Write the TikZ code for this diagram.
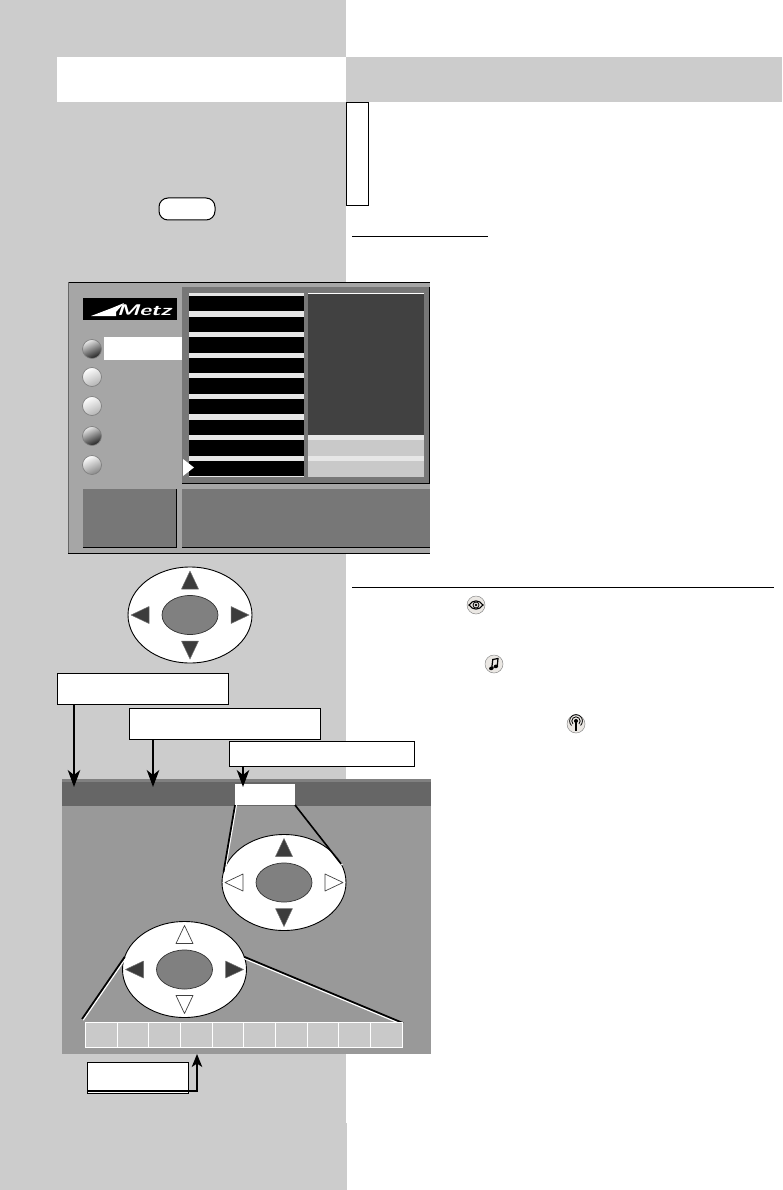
\documentclass[tikz,border=0pt]{standalone}
\usepackage{amsmath,amssymb}
\usetikzlibrary{arrows.meta, positioning, calc, shapes.geometric}
\definecolor{tvpage}{HTML}{CCCCCC}
\definecolor{tvbody}{HTML}{A6A6A6}
\definecolor{tvpanel}{HTML}{777777}
\definecolor{tvdark}{HTML}{414141}
\definecolor{tvlight}{HTML}{E6E6E6}
\definecolor{tvmid}{HTML}{C9C9C9}
\definecolor{tvscreen}{HTML}{999999}
\definecolor{tvband}{HTML}{666666}
\definecolor{tvinner}{HTML}{808080}
\definecolor{tvtri}{HTML}{3C3C3C}
\definecolor{tvicon}{HTML}{EBE8E4}

\begin{document}
\begin{tikzpicture}[
    x=1pt, y=-1pt,
    >=Stealth,
    block/.style={
        rectangle, inner sep=0pt, outer sep=0pt, draw=none
    },
    label/.style={ block, draw=black, fill=white, line width=1pt },
    stripe/.style={ block, fill=tvlight, minimum width=115pt },
    sidestripe/.style={ block, fill=tvlight, minimum width=116pt },
    cell/.style={ block, draw=white, fill=tvmid, line width=0.9pt,
        minimum width=31.7pt, minimum height=25pt },
    knob/.style={
        circle, inner sep=0pt, outer sep=0pt, minimum size=19pt,
        draw=tvinner, line width=0.7pt
    },
    knobdark/.style={ knob, top color=white!92!black, bottom color=black!88, shading angle=25 },
    knobmid/.style={ knob, top color=white, bottom color=black!48, shading angle=25 },
    knoblight/.style={ knob, top color=white, bottom color=black!30, shading angle=25 },
    pad/.style={
        ellipse, inner sep=0pt, outer sep=0pt, minimum width=124pt,
        minimum height=96pt, draw=black, fill=white, line width=0.9pt
    },
    padcore/.style={
        ellipse, inner sep=0pt, outer sep=0pt, minimum width=56pt,
        minimum height=39pt, draw=black!80, fill=tvinner, line width=0.7pt
    },
    iconbase/.style={
        circle, inner sep=0pt, outer sep=0pt, minimum size=18pt,
        draw=black!45, fill=tvicon, line width=0.5pt
    },
    trion/.style={ draw=black!55, fill=tvtri, line width=0.5pt, line join=round },
    trioff/.style={ draw=tvdark, fill=white, line width=0.7pt, line join=round },
    pointer/.style={
        ->, >={Stealth[length=17pt, width=12.5pt, inset=5pt]}, line width=1.6pt
    },
    callout/.style={ draw=black, line width=1.7pt },
    calloutlit/.style={ draw=white, line width=1.2pt },
]
\useasboundingbox (0,0) rectangle (782,1190);

% ---- page background and header ----
\node[block, fill=tvpage, minimum width=346pt, minimum height=1190pt] (column) at (173,595) {};
\node[block, fill=tvpage, minimum width=1pt, minimum height=67pt] (columnfoot) at (346.5,1156.5) {};
\node[block, fill=white, minimum width=289pt, minimum height=45pt] (headleft) at (201.5,79.5) {};
\node[block, fill=tvpage, minimum width=436pt, minimum height=45pt] (headright) at (564,79.5) {};
\node[label, minimum width=21.5pt, minimum height=103.5pt] (tabbox) at (357.25,154.25) {};
\node[label, rounded corners=9pt, minimum width=56pt, minimum height=22pt] (pill) at (187,209) {};

% ---- rules on the right ----
\coordinate (rulea) at (352,236.5);
\coordinate (ruleb) at (488,236.5);
\coordinate (rulec) at (352,587.5);
\coordinate (ruled) at (774,587.5);
\draw[line width=1pt] (rulea) -- (ruleb);
\draw[line width=1pt] (rulec) -- (ruled);

% ---- menu screen ----
\node[block, fill=tvbody, minimum width=362pt, minimum height=271pt] (tv) at (249,417.5) {};
\draw[line width=1pt] (tv.north west) -- (tv.north east);
\draw[line width=1pt] (tv.south west) -- (tv.south east);
\draw[line width=0.5pt, black!60] (tv.north west) -- (tv.south west);

\node[block, fill=black, minimum width=94pt, minimum height=22pt] (logo) at (130,309) {};
\node[block, text=white, font=\sffamily\bfseries\itshape] (logotext) at (144,310)
    {\scalebox{2.3}[1.55]{Metz}};
\fill[white] (91,316) -- (112,308) -- (124,303) -- (116,312) -- (116,316) -- cycle;

\node[block, fill=white, minimum width=78pt, minimum height=23pt] (selected) at (143,348.5) {};
\node[knobdark] (knoba) at (92,349) {};
\node[knoblight] (knobb) at (92,377) {};
\node[knoblight] (knobc) at (92,406) {};
\node[knobdark] (knobd) at (92,436) {};
\node[knobmid] (knobe) at (92,465) {};

\node[block, fill=tvpanel, minimum width=247.5pt, minimum height=196pt] (panel) at (305.75,385) {};
\draw[line width=1pt] (panel.north east) -- (panel.south east) -- (panel.south west);
\node[block, fill=black, minimum width=115pt, minimum height=184pt] (list) at (246.5,385) {};
\node[block, fill=tvdark, minimum width=116pt, minimum height=142pt] (info) at (366,364) {};
\draw[white, line width=0.7pt] (info.north west) -- (info.north east);

% ---- list stripes, top to bottom ----
\node[stripe, minimum height=3pt] (stripea) at (246.5,294.5) {};
\node[stripe, minimum height=6pt] (stripeb) at (246.5,314) {};
\node[stripe, minimum height=5pt] (stripec) at (246.5,334.5) {};
\node[stripe, minimum height=5pt] (striped) at (246.5,355.5) {};
\node[stripe, minimum height=5pt] (stripee) at (246.5,375.5) {};
\node[stripe, minimum height=5pt] (stripef) at (246.5,396.5) {};
\node[stripe, minimum height=6pt] (stripeg) at (246.5,417) {};
\node[stripe, minimum height=5pt] (stripeh) at (246.5,437.5) {};
\node[stripe, minimum height=5pt] (stripei) at (246.5,458.5) {};
\node[stripe, minimum height=1.5pt] (stripej) at (246.5,476.5) {};

\node[sidestripe, minimum height=5pt] (sidea) at (366,437.5) {};
\node[block, fill=tvmid, minimum width=116pt, minimum height=16pt] (sideb) at (366,448) {};
\node[sidestripe, minimum height=5pt] (sidec) at (366,458.5) {};
\node[block, fill=tvmid, minimum width=116pt, minimum height=16pt] (sided) at (366,469) {};
\fill[white] (183,459) -- (194,467.5) -- (183,476) -- cycle;

\node[block, fill=tvpanel, minimum width=93pt, minimum height=58pt] (footleft) at (129.5,518) {};
\draw[line width=0.9pt] (footleft.north east) -- (footleft.south east) -- (footleft.south west);
\node[block, fill=tvpanel, minimum width=247.5pt, minimum height=58pt] (footright) at (305.75,518) {};
\draw[line width=0.9pt] (footright.south east) -- (footright.south west);

% ---- first remote pad ----
\node[pad] (pada) at (190,615) {};
\node[padcore] (coreb) at (pada) {};
\draw[trion, shift={(pada)}] (0,-44) -- (-8.5,-26) -- (8.5,-26) -- cycle;
\draw[trion, shift={(pada)}] (0,44) -- (-8.5,26) -- (8.5,26) -- cycle;
\draw[trion, shift={(pada)}] (-59,0) -- (-41,-8.5) -- (-41,8.5) -- cycle;
\draw[trion, shift={(pada)}] (59,0) -- (41,-8.5) -- (41,8.5) -- cycle;

% ---- picture screen ----
\node[block, fill=tvscreen, minimum width=369pt, minimum height=275pt] (screen) at (246.5,916.5) {};
\node[block, fill=tvinner, minimum width=369pt, minimum height=3pt] (bandtop) at (246.5,780.5) {};
\node[block, fill=tvband, minimum width=369pt, minimum height=24pt] (band) at (246.5,794) {};
\node[block, fill=white, minimum width=60pt, minimum height=21pt] (tab) at (265,794.5) {};

% ---- second and third remote pads ----
\node[pad] (padb) at (284,882.5) {};
\node[pad] (padc) at (184.5,969.5) {};
\coordinate (rowleft) at (82,1019);
\coordinate (rowright) at (403,1023);

\draw[calloutlit] ([xshift=1.4pt]tab.south west) -- ([xshift=1.4pt]padb.170);
\draw[callout] (tab.south west) -- (padb.170);
\draw[calloutlit] ([xshift=1.2pt, yshift=-1.2pt]tab.south east) -- ([xshift=1.2pt, yshift=-1.2pt]padb.18);
\draw[callout] (tab.south east) -- (padb.18);
\draw[calloutlit] ([xshift=1.2pt, yshift=-1.2pt]padc.168) -- ([xshift=1.2pt, yshift=-1.2pt]rowleft);
\draw[callout] (padc.168) -- (rowleft);
\draw[calloutlit] ([xshift=-0.5pt, yshift=-1.6pt]padc.12.6) -- ([xshift=-0.5pt, yshift=-1.6pt]rowright);
\draw[callout] (padc.12.6) -- (rowright);

\node[padcore] (corec) at (padb) {};
\draw[trion, shift={(padb)}] (0,-44) -- (-8.5,-26) -- (8.5,-26) -- cycle;
\draw[trion, shift={(padb)}] (0,44) -- (-8.5,26) -- (8.5,26) -- cycle;
\draw[trioff, shift={(padb)}] (-59,0) -- (-41,-8.5) -- (-41,8.5) -- cycle;
\draw[trioff, shift={(padb)}] (59,0) -- (41,-8.5) -- (41,8.5) -- cycle;

\node[padcore] (cored) at (padc) {};
\draw[trioff, shift={(padc)}] (0,-44) -- (-8.5,-26) -- (8.5,-26) -- cycle;
\draw[trioff, shift={(padc)}] (0,44) -- (-8.5,26) -- (8.5,26) -- cycle;
\draw[trion, shift={(padc)}] (-59,0) -- (-41,-8.5) -- (-41,8.5) -- cycle;
\draw[trion, shift={(padc)}] (59,0) -- (41,-8.5) -- (41,8.5) -- cycle;

% ---- channel row ----
\node[cell] (cella) at (101.15,1034.5) {};
\node[cell] (cellb) at (132.85,1034.5) {};
\node[cell] (cellc) at (164.55,1034.5) {};
\node[cell] (celld) at (196.25,1034.5) {};
\node[cell] (celle) at (227.95,1034.5) {};
\node[cell] (cellf) at (259.65,1034.5) {};
\node[cell] (cellg) at (291.35,1034.5) {};
\node[cell] (cellh) at (323.05,1034.5) {};
\node[cell] (celli) at (354.75,1034.5) {};
\node[cell] (cellj) at (386.45,1034.5) {};

% ---- label boxes and their arrows ----
\node[label, minimum width=171.5pt, minimum height=31pt] (labela) at (143,688.5) {};
\node[label, minimum width=191pt, minimum height=31pt] (labelb) at (225,723.5) {};
\node[label, minimum width=185pt, minimum height=25.5pt] (labelc) at (322,754) {};
\node[label, minimum width=101pt, minimum height=31pt] (labeld) at (137.5,1077.5) {};

\coordinate (tipa) at (74,787);
\coordinate (tipb) at (153,787);
\coordinate (tipc) at (243,787);
\coordinate (turnd) at (197,1091);
\coordinate (tipd) at (197,1054);
\draw[pointer] (labela.south -| tipa) -- (tipa);
\draw[pointer] (labelb.south -| tipb) -- (tipb);
\draw[pointer] (labelc.south -| tipc) -- (tipc);
\draw[pointer, >={Stealth[length=13pt, width=10.5pt, inset=3.5pt]}]
    (labeld.west |- turnd) -- (turnd) -- (tipd);

% ---- small icons ----
\node[iconbase] (iconeye) at (476,605) {};
\draw[line width=1.1pt, shift={(iconeye)}] (-7,0) .. controls (-3,-5.5) and (3,-5.5) .. (7,0)
    .. controls (3,5.5) and (-3,5.5) .. (-7,0) -- cycle;
\draw[line width=0.8pt, shift={(iconeye)}] (0,0) circle (3pt);
\fill[shift={(iconeye)}] (0,0) circle (1.4pt);

\node[iconbase] (iconnote) at (494,664) {};
\draw[line width=1.2pt, shift={(iconnote)}] (-2.2,3.5) -- (-1.2,-4.5) -- (4,-5.5) -- (3.2,2.5);
\fill[shift={(iconnote)}, rotate=15] (-3.6,3.5) ellipse (2.4pt and 1.8pt);
\fill[shift={(iconnote)}, rotate=15] (1.2,2.8) ellipse (2.4pt and 1.8pt);

\node[iconbase] (iconmast) at (576,724) {};
\draw[line width=1.6pt, shift={(iconmast)}] (0,-3) -- (0,6.5);
\fill[shift={(iconmast)}] (0,-3) circle (2pt);
\draw[line width=0.8pt, shift={(iconmast)}] (-3,0) arc[start angle=225, end angle=-45, radius=4.2pt];
\draw[line width=0.8pt, shift={(iconmast)}] (-4.5,1.5) arc[start angle=225, end angle=-45, radius=6.4pt];

\end{tikzpicture}
\end{document}
